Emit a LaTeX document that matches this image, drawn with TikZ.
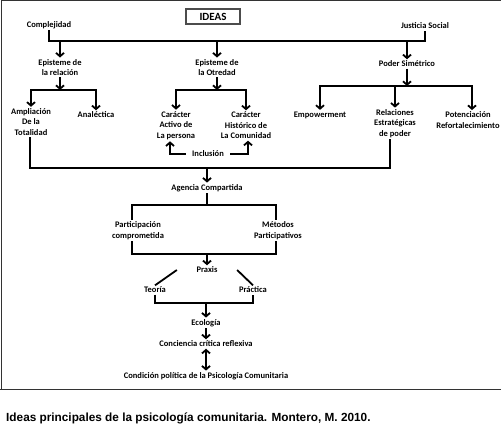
\documentclass[tikz,border=0pt]{standalone}
\usepackage{fontspec}
\setmainfont{Carlito}
\newfontfamily\capfont{Liberation Sans}
\usetikzlibrary{arrows.meta,positioning,calc}

\begin{document}
\begin{tikzpicture}[x=1pt,y=-1pt,
  lbl/.style={font=\bfseries\fontsize{8.5}{10.5}\selectfont, align=center, inner sep=1.5pt},
  conn/.style={line width=1.8pt},
  arr/.style={conn, -{Straight Barb[length=3.5pt,width=8pt]}},
  dbl/.style={conn, {Straight Barb[length=3.5pt,width=8pt]}-{Straight Barb[length=3.5pt,width=8pt]}}]
  \useasboundingbox (0,0) rectangle (501,442);
  \draw[line width=1pt, black!80] (1,389) -- (1,0.5) -- (501,0.5);
  \draw[line width=1pt, black!80] (0,389) -- (501,389);
  \node[draw, line width=1.2pt, black!70, text=black, minimum width=54pt, minimum height=15pt,
    font=\bfseries\fontsize{11}{13}\selectfont] (ideas) at (213,16.5) {IDEAS};
  \node[lbl] (compl) at (49,25) {Complejidad};
  \node[lbl] (just) at (425,26) {Justicia Social};
  \node[lbl] (epirel) at (60,67.5) {Episteme de\\la relación};
  \node[lbl] (epiotr) at (217,67.5) {Episteme de\\la Otredad};
  \node[lbl] (poder) at (407,64) {Poder Simétrico};
  \node[lbl] (amp) at (31,122) {Ampliación\\De la\\Totalidad};
  \node[lbl] (anal) at (96,115) {Analéctica};
  \node[lbl] (act) at (176,125.5) {Carácter\\Activo de\\La persona};
  \node[lbl] (hist) at (246,125.5) {Carácter\\Histórico de\\La Comunidad};
  \node[lbl, inner xsep=6pt] (incl) at (208,154) {Inclusión};
  \node[lbl] (emp) at (320,115) {Empowerment};
  \node[lbl] (rel) at (395,123.5) {Relaciones\\Estratégicas\\de poder};
  \node[lbl] (pot) at (468,120) {Potenciación\\Refortalecimiento};
  \node[lbl] (agen) at (207,188) {Agencia Compartida};
  \node[lbl] (part) at (138,230.5) {Participación\\comprometida};
  \node[lbl] (met) at (278,230.5) {Métodos\\Participativos};
  \node[lbl] (prax) at (207,270) {Praxis};
  \node[lbl] (teo) at (155,290) {Teoría};
  \node[lbl] (prac) at (253,290) {Práctica};
  \node[lbl] (eco) at (206,323) {Ecología};
  \node[lbl] (conc) at (206,344) {Conciencia crítica reflexiva};
  \node[lbl] (cond) at (206,376) {Condición política de la Psicología Comunitaria};
  \node[anchor=west, inner sep=0pt, font=\capfont\bfseries\fontsize{11.8}{14}\selectfont] (cap) at (6,418)
    {Ideas principales de la psicología comunitaria. Montero, M. 2010.};
  \coordinate (topbar) at (217,41);
  \coordinate (relbar) at (62,90);
  \coordinate (otrbar) at (217,90);
  \coordinate (podbar) at (407,86);
  \coordinate (agbar) at (207,168);
  \coordinate (partbar) at (207,205);
  \coordinate (praxbar) at (207,254);
  \coordinate (ecobar) at (206,303);
  \draw[conn] (compl.south) |- (topbar) -| (just.south);
  \draw[arr] (topbar -| epirel) -- (epirel.north);
  \draw[arr] (topbar) -- (epiotr.north);
  \draw[arr] (topbar -| poder) -- (poder.north);
  \draw[arr] (epirel.south) -- (epirel.south |- relbar);
  \draw[dbl] (amp.north) |- (relbar) -| (anal.north);
  \draw[arr] (epiotr.south) -- (otrbar);
  \draw[dbl] (act.north) |- (otrbar) -| (hist.north);
  \draw[arr] (poder.south) -- (podbar);
  \draw[dbl] (emp.north) |- (podbar) -| ([xshift=4pt]pot.north);
  \draw[arr] (podbar -| rel) -- (rel.north);
  \draw[arr] (incl.west) -| ([xshift=-6pt]act.south);
  \draw[arr] (incl.east) -| ([xshift=2pt]hist.south);
  \draw[conn] ([xshift=-1pt]amp.south) |- (agbar) -| ([xshift=-5pt]rel.south);
  \draw[arr] (agbar) -- (agen.north);
  \draw[conn] (agen.south) -- (partbar);
  \draw[conn] ([xshift=-6pt]part.north) |- (partbar) -| ([xshift=-2pt]met.north);
  \draw[conn] ([xshift=-6pt]part.south) |- (praxbar) -| ([xshift=-2pt]met.south);
  \draw[arr] (praxbar) -- (prax.north);
  \draw[conn] ([xshift=-18pt]prax.west) -- (teo.north);
  \draw[conn] ([xshift=18pt]prax.east) -- (prac.north);
  \draw[conn] (teo.south) |- (ecobar) -| (prac.south);
  \draw[arr] (ecobar) -- (eco.north);
  \draw[arr] (eco) -- (conc);
  \draw[dbl] (conc) -- (cond);
\end{tikzpicture}
\end{document}
